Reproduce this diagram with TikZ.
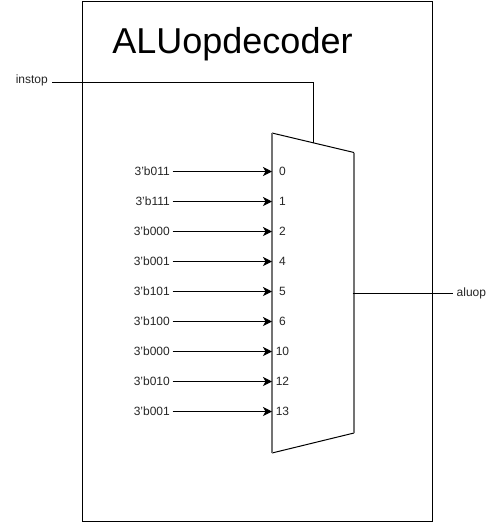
\documentclass[tikz,border=0pt]{standalone}
\usepackage{fontspec}
\setmainfont{Liberation Sans}
\usetikzlibrary{arrows.meta}
\tikzset{
  lbl/.style={inner sep=0pt,font=\fontsize{12}{14}\selectfont,text=black!85},
  inlbl/.style={lbl,anchor=east},
  pinlbl/.style={lbl,anchor=center},
  wire/.style={draw=black,line width=1pt},
  arrowwire/.style={wire,-{Stealth[length=9pt,width=9pt,inset=2.5pt]},shorten >=0pt},
  edge box/.style={draw=black,line width=1pt},
}
\begin{document}
\begin{tikzpicture}[x=1pt,y=-1pt]
\useasboundingbox (0,0) rectangle (497,523);
\fill[white] (0,0) rectangle (497,523);
\node[edge box,minimum width=350pt,minimum height=520pt,inner sep=0pt,outer sep=0pt,anchor=north west] (box) at (82.5,1) {};
\node[inner sep=0pt,font=\fontsize{36}{40}\selectfont,anchor=center] (title) at (232.5,44) {ALUopdecoder};
% multiplexer outline
\coordinate (mtl) at (272,133);
\coordinate (mtr) at (354,152.5);
\coordinate (mbr) at (354,433);
\coordinate (mbl) at (272,453);
\coordinate (mtop) at (313.5,143);
\coordinate (mout) at (352.5,293);
\draw[line width=1pt,line join=miter] (mtl) -- (mtr);
\draw[line width=1pt] (mbr) -- (mbl);
\draw[line width=1.5pt,draw=black!55] (mtl) -- (mbl);
\draw[line width=1.5pt,draw=black!55] (mtr) -- (mbr);
% control and output
\node[lbl,anchor=east] (instop) at (48,80.5) {instop};
\node[lbl,anchor=west] (aluop) at (456.5,293) {aluop};
\coordinate (instopend) at (52,82);
\coordinate (aluopend) at (452.5,293);
\draw[wire] (instopend) -- (313.5,82) -- (mtop);
\draw[wire] (mout) -- (aluopend);
% inputs
\foreach \n/\y/\v/\p in {a/171/011/0,b/201/111/1,c/231/000/2,d/261/001/4,e/291/101/5,f/321/100/6,g/351/000/10,h/381/010/12,i/411/001/13}{
  \node[inlbl] (v\n) at (170,\y) {3'b\v};
  \node[pinlbl] (p\n) at (282.5,\y) {\p};
  \coordinate (t\n) at (272,\y+0.5);
  \coordinate (s\n) at (172.5,\y+0.5);
  \draw[arrowwire] (s\n) -- (t\n);
}
\end{tikzpicture}
\end{document}
